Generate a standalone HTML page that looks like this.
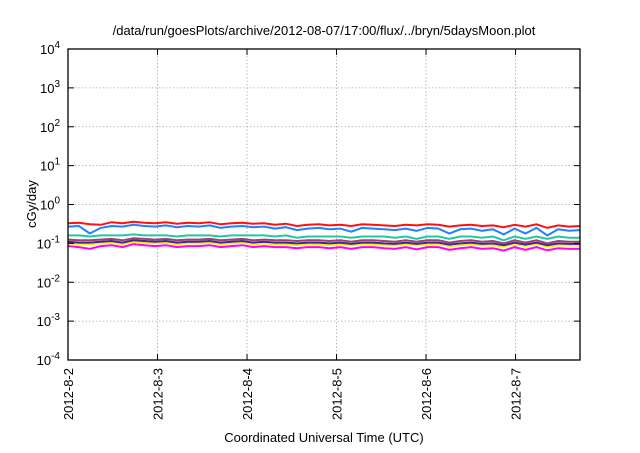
<!DOCTYPE html>
<html><head><meta charset="utf-8"><style>
body{margin:0;background:#fff;font-family:"Liberation Sans",sans-serif}
svg text{font-family:"Liberation Sans",sans-serif}
</style></head><body>
<svg id="chart" width="640" height="448" xmlns="http://www.w3.org/2000/svg">
<rect width="640" height="448" fill="#fff"/>
<text x="324" y="35" font-size="13" text-anchor="middle" fill="#000">/data/run/goesPlots/archive/2012-08-07/17:00/flux/../bryn/5daysMoon.plot</text>
<g id="grid"></g><g id="series"></g><g id="axes"></g>
<text transform="translate(36,204) rotate(-90)" font-size="13" text-anchor="middle">cGy/day</text>
<text x="324" y="442" font-size="13" text-anchor="middle">Coordinated Universal Time (UTC)</text>
</svg>
<script>
const xTicks=["2012-8-2","2012-8-3","2012-8-4","2012-8-5","2012-8-6","2012-8-7"];
const yExps=[-4,-3,-2,-1,0,1,2,3,4];
const xDomain=[0,5.72];
const red=[0.33,0.34,0.31,0.30,0.35,0.33,0.36,0.34,0.33,0.35,0.32,0.34,0.33,0.35,0.31,0.33,0.34,0.32,0.33,0.30,0.32,0.28,0.30,0.31,0.29,0.30,0.28,0.31,0.30,0.29,0.28,0.30,0.29,0.31,0.30,0.27,0.29,0.30,0.28,0.29,0.26,0.30,0.27,0.31,0.25,0.29,0.27,0.28];
const blue=[0.27,0.28,0.18,0.25,0.28,0.27,0.30,0.28,0.27,0.29,0.26,0.28,0.27,0.29,0.25,0.27,0.28,0.26,0.27,0.24,0.26,0.22,0.24,0.25,0.23,0.24,0.20,0.25,0.24,0.23,0.22,0.24,0.21,0.25,0.24,0.18,0.23,0.24,0.21,0.23,0.17,0.24,0.18,0.25,0.16,0.23,0.21,0.22];
const teal=[0.16,0.16,0.15,0.16,0.16,0.16,0.17,0.16,0.16,0.16,0.15,0.16,0.16,0.16,0.15,0.16,0.16,0.16,0.16,0.15,0.16,0.14,0.15,0.15,0.15,0.15,0.14,0.15,0.15,0.15,0.14,0.15,0.13,0.15,0.15,0.13,0.15,0.15,0.14,0.15,0.12,0.15,0.13,0.15,0.13,0.15,0.14,0.14];
const purple=[0.125,0.12,0.12,0.125,0.13,0.12,0.135,0.13,0.125,0.13,0.12,0.125,0.125,0.13,0.12,0.125,0.13,0.12,0.125,0.12,0.12,0.115,0.12,0.12,0.115,0.12,0.11,0.12,0.12,0.115,0.11,0.12,0.11,0.12,0.12,0.105,0.115,0.12,0.11,0.115,0.10,0.12,0.105,0.12,0.10,0.115,0.11,0.11];
const navy=[0.11,0.105,0.105,0.11,0.115,0.105,0.12,0.115,0.11,0.115,0.105,0.11,0.11,0.115,0.105,0.11,0.115,0.105,0.11,0.105,0.105,0.10,0.105,0.105,0.10,0.105,0.097,0.105,0.105,0.10,0.097,0.105,0.097,0.105,0.105,0.093,0.10,0.105,0.097,0.10,0.09,0.105,0.093,0.105,0.09,0.10,0.097,0.097];
const yellow=[0.10,0.095,0.095,0.10,0.105,0.095,0.11,0.105,0.10,0.105,0.095,0.10,0.10,0.105,0.095,0.10,0.105,0.095,0.10,0.095,0.095,0.09,0.095,0.095,0.09,0.095,0.088,0.095,0.095,0.09,0.088,0.095,0.088,0.095,0.095,0.085,0.09,0.095,0.088,0.09,0.082,0.095,0.085,0.095,0.082,0.09,0.088,0.088];
const magenta=[0.085,0.08,0.072,0.085,0.09,0.08,0.095,0.09,0.085,0.09,0.08,0.085,0.085,0.09,0.08,0.085,0.09,0.08,0.085,0.08,0.08,0.075,0.08,0.08,0.075,0.08,0.072,0.08,0.08,0.075,0.072,0.08,0.07,0.08,0.08,0.068,0.075,0.08,0.072,0.075,0.065,0.08,0.068,0.08,0.066,0.075,0.072,0.072];
const L=68,R=580,T=49,B=360,NS="http://www.w3.org/2000/svg";
const xs=d=>L+(d-xDomain[0])/(xDomain[1]-xDomain[0])*(R-L);
const ys=v=>B-(Math.log10(v)+4)/8*(B-T);
function mk(tag,attrs,parent){const e=document.createElementNS(NS,tag);for(const k in attrs)e.setAttribute(k,attrs[k]);parent.appendChild(e);return e;}
const grid=document.getElementById('grid'),axes=document.getElementById('axes'),ser=document.getElementById('series');
yExps.forEach(e=>{const y=B-(e+4)/8*(B-T);
 if(e>-4&&e<4){const g=mk('line',{x1:L,x2:R,y1:y,y2:y,stroke:'#aaa','stroke-dasharray':'1.5,2','stroke-width':0.8},grid);
 
 }
 mk('line',{x1:L,x2:L+6,y1:y,y2:y,stroke:'#000'},axes);mk('line',{x1:R,x2:R-6,y1:y,y2:y,stroke:'#000'},axes);
 const t=mk('text',{x:L-8,y:y+5,'font-size':13,'text-anchor':'end'},axes);
 
 
 t.innerHTML='10<tspan dy="-6" font-size="10">'+e+'</tspan>';});
xTicks.forEach((lab,i)=>{const x=xs(i);
 if(i>0){const g=mk('line',{x1:x,x2:x,y1:T,y2:B,stroke:'#aaa','stroke-dasharray':'1.5,2','stroke-width':0.8},grid);
 
 }
 mk('line',{x1:x,x2:x,y1:B,y2:B-6,stroke:'#000'},axes);mk('line',{x1:x,x2:x,y1:T,y2:T+6,stroke:'#000'},axes);
 const t=mk('text',{transform:`translate(${x+5},368) rotate(-90)`,'font-size':13,'text-anchor':'end'},axes);
 
 
 t.textContent=lab;});
const fr=mk('rect',{x:L,y:T,width:R-L,height:B-T,fill:'none',stroke:'#000','stroke-width':1.3},axes);


[[magenta,'#ff00ff','magenta'],[yellow,'#ffee00','yellow'],[navy,'#3a2aa0','navy'],[purple,'#a04070','purple'],[teal,'#20c8a0','teal'],[blue,'#2080ff','blue'],[red,'#ff1010','red']].forEach(([d,c,n])=>{
 const pts=d.map((v,i)=>xs(i*xDomain[1]/(d.length-1)).toFixed(1)+','+ys(v).toFixed(1)).join(' ');
 const p=mk('polyline',{points:pts,fill:'none',stroke:c,'stroke-width':2},ser);
 
 });
</script>
</body></html>
